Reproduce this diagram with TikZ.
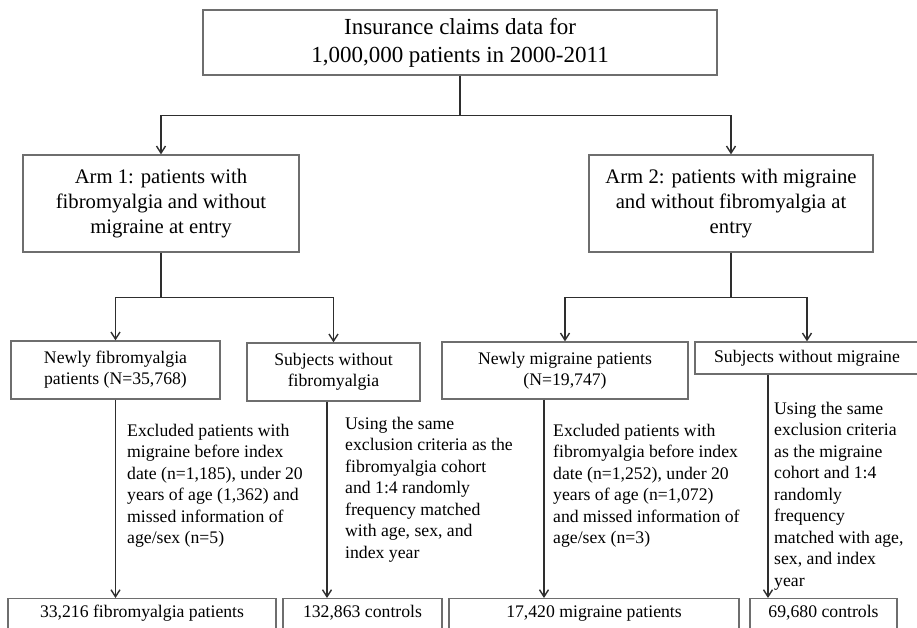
\documentclass[tikz,border=0pt]{standalone}
\usepackage{fontspec}
\setmainfont{Liberation Serif}
\usetikzlibrary{arrows.meta}
\definecolor{boxLine}{HTML}{6E6E6E}
\definecolor{arrLine}{HTML}{2E2E2E}
\tikzset{
  blk/.style={draw=boxLine, line width=1.3pt, align=center, inner sep=2pt,
              font=\fontsize{17.7}{20.7}\selectfont},
  src/.style={blk, font=\fontsize{23}{28}\selectfont,
              minimum width=514pt, minimum height=65pt},
  arm/.style={blk, font=\fontsize{20.7}{25}\selectfont, minimum height=97pt},
  grp/.style={blk, minimum height=58pt},
  % bottom row runs off the page edge: baseline fixed from the top
  final/.style={blk, anchor=north, text height=17pt, text depth=24pt},
  flow/.style={draw=arrLine, line width=1.4pt,
               -{Straight Barb[length=7pt,width=9pt]}},
  link/.style={draw=arrLine, line width=1.4pt},
  note/.style={font=\fontsize{17.7}{21.5}\selectfont, align=left,
               inner sep=0pt, anchor=north west},
}

\begin{document}
\begin{tikzpicture}[x=1pt, y=-1pt]
\useasboundingbox (0,0) rectangle (917,628);
\clip (0,0) rectangle (917,628);

%% ── source and the two arms ───────────────────────────────────────────────
\node[src] (src) at (460,42.5)
  {Insurance claims data for\\1,000,000 patients in 2000-2011};
\node[arm, minimum width=276pt] (arm1) at (161,203.5)
  {Arm 1: patients with\\fibromyalgia and without\\migraine at entry};
\node[arm, minimum width=284pt] (arm2) at (731,203.5)
  {Arm 2: patients with migraine\\and without fibromyalgia at\\entry};

%% ── cohorts and comparison groups ─────────────────────────────────────────
\node[grp, minimum width=209pt] (newF) at (115.5,370)
  {Newly fibromyalgia\\patients (N=35,768)};
\node[grp, minimum width=173pt] (ctlF) at (333.5,372)
  {Subjects without\\fibromyalgia};
\node[grp, minimum width=246pt, minimum height=57pt] (newM) at (565,370.5)
  {Newly migraine patients\\(N=19,747)};
\node[blk, minimum width=224pt, minimum height=32pt] (ctlM) at (807,358)
  {Subjects without migraine};

%% ── final counts ──────────────────────────────────────────────────────────
\node[final, minimum width=268pt] (finF) at (142,598) {33,216 fibromyalgia patients};
\node[final, minimum width=159pt] (conF) at (362.5,598) {132,863 controls};
\node[final, minimum width=290pt] (finM) at (594,598) {17,420 migraine patients};
\node[final, minimum width=147pt] (conM) at (823.5,598) {69,680 controls};

%% ── branching ─────────────────────────────────────────────────────────────
\draw[link] (src.south) -- ++(0,40) coordinate (fork);
\draw[flow] (fork) -| (arm1.north);
\draw[flow] (fork) -| (arm2.north);

\draw[link] (arm1.south) -- ++(0,45) coordinate (forkF);
\draw[flow] (forkF) -| (newF.north);
\draw[flow] (forkF) -| (ctlF.north);

\draw[link] (arm2.south) -- ++(0,45) coordinate (forkM);
\draw[flow] (forkM) -| (newM.north);
\draw[flow] (forkM) -| (ctlM.north);

%% ── exclusion / matching steps ────────────────────────────────────────────
\coordinate (dropF) at (327,0);
\coordinate (dropM) at (544,0);
\coordinate (dropC) at (768,0);
\draw[flow] (newF.south) -- (newF.south |- finF.north);
\draw[flow] (ctlF.south -| dropF) -- (conF.north -| dropF);
\draw[flow] (newM.south -| dropM) -- (finM.north -| dropM);
\draw[flow] (ctlM.south -| dropC) -- (conM.north -| dropC);

\node[note] (exclF) at (127,424)
  {Excluded patients with\\migraine before index\\date (n=1,185), under 20\\
   years of age (1,362) and\\missed information of\\age/sex (n=5)};
\node[note] (matchF) at (345,417)
  {Using the same\\exclusion criteria as the\\fibromyalgia cohort\\
   and 1:4 randomly\\frequency matched\\with age, sex, and\\index year};
\node[note] (exclM) at (553,424)
  {Excluded patients with\\fibromyalgia before index\\date (n=1,252), under 20\\
   years of age (n=1,072)\\and missed information of\\age/sex (n=3)};
\node[note] (matchM) at (774,402)
  {Using the same\\exclusion criteria\\as the migraine\\cohort and 1:4\\
   randomly\\frequency\\matched with age,\\sex, and index\\year};

\end{tikzpicture}
\end{document}
